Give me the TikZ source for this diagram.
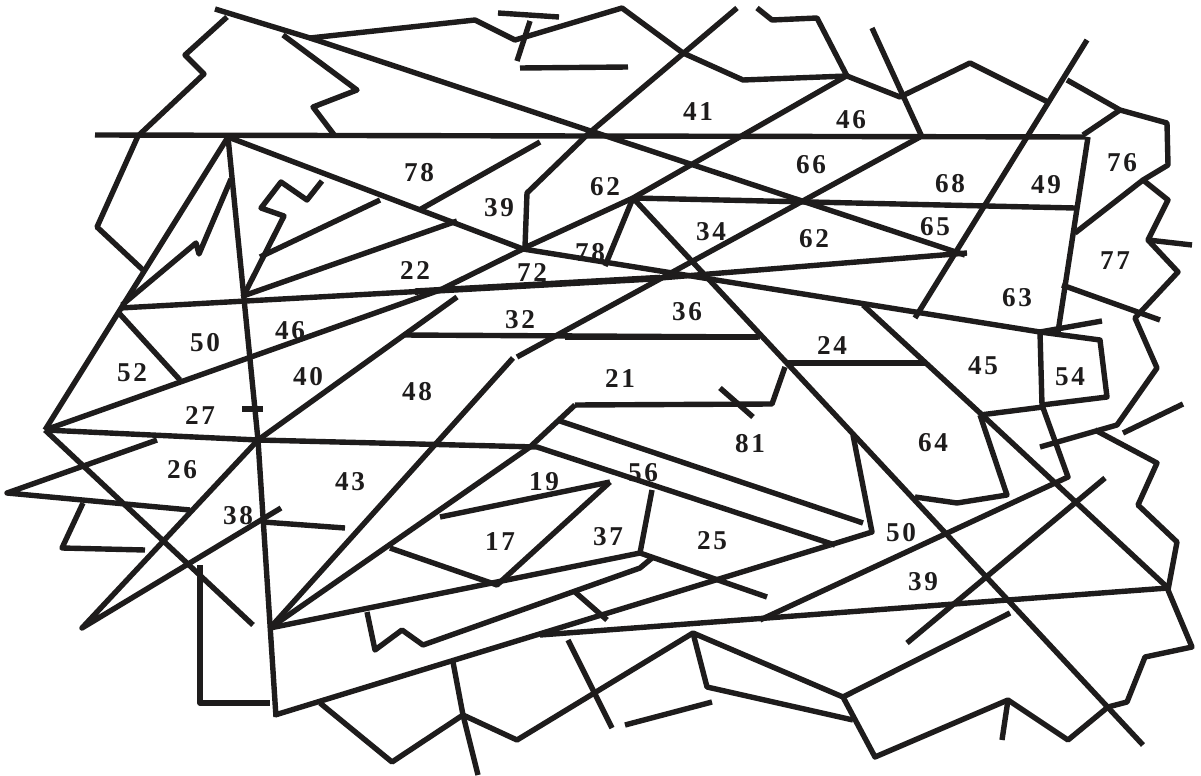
\documentclass[tikz,border=0pt]{standalone}
\usepackage{fontspec}
\setmainfont{Liberation Serif}
\definecolor{ink}{RGB}{30,28,28}
\newcommand{\dd}[2]{#1\kern1.3pt#2}
\begin{document}
\begin{tikzpicture}[x=0.5pt,y=-0.5pt,
  ln/.style={line width=2.7pt, line join=round, line cap=butt, draw=ink},
  thk/.style={line width=3.3pt, draw=ink},
  lab/.style={font=\bfseries\fontsize{13.6}{13.6}\selectfont, text=ink, inner sep=0pt}]
\useasboundingbox (0,0) rectangle (1201,776);
\fill[white] (0,0) rectangle (1201,776);
% top contour
\draw[ln] (215,9)--(310,38)--(475,20)--(515,40)--(622,8)--(683,53)--(743,80)--(847,76)--(900,97)--(970,63)--(1050,103);
\draw[ln] (498,13)--(559,17);
\draw[ln] (530,21)--(517,61);
\draw[ln] (520,68)--(628,67);
\draw[ln] (283,35)--(357,90)--(313,107)--(335,136);
\draw[ln] (310,38)--(965,255);
\draw[ln] (737,8)--(588,134)--(527,193)--(525,247);
\draw[ln] (757,8)--(772,20)--(817,18)--(847,76);
\draw[ln] (848,75)--(633,198)--(522,249);
\draw[ln] (872,28)--(922,137);
\draw[ln] (95,135)--(1085,137);
% left
\draw[ln] (227,17)--(185,55)--(204,74)--(138,136)--(97,227)--(143,270);
\draw[ln] (228,137)--(45,430);
\draw[ln] (228,137)--(258,440)--(276,717);
\draw[ln] (228,137)--(523,249)--(1040,332)--(1102,321);
\draw[ln] (540,142)--(421,209);
\draw[ln] (231,179)--(199,254)--(196,243)--(122,305);
\draw[ln] (322,181)--(307,200)--(281,182)--(261,208)--(284,216)--(243,297);
\draw[ln] (260,257)--(380,200);
\draw[ln] (243,296)--(457,221);
\draw[ln] (120,308)--(660,278)--(967,253);
\draw[thk] (415,291.6)--(660,278);
\draw[ln] (118,312)--(180,380);
\draw[ln] (45,430)--(440,290)--(523,249);
\draw[ln] (457,297)--(258,440)--(82,628)--(281,508);
\draw[ln] (45,430)--(258,440)--(537,447)--(835,545);
\draw[ln] (575,405)--(530,447)--(270,628);
\draw[ln] (575,405)--(772,404)--(785,367);
\draw[ln] (560,421)--(863,523);
\draw[ln] (853,435)--(872,532)--(830,545);
\draw[ln] (720,388)--(753,417);
\draw[ln] (403,335)--(760,337);
\draw[thk] (565,337)--(758,337);
\draw[ln] (920,137)--(517,357);
\draw[ln] (513,358)--(270,628);
\draw[ln] (242,409)--(263,409);
% centre triangle
\draw[ln] (633,198)--(1075,208);
\draw[ln] (633,198)--(605,266);
\draw[ln] (633,198)--(1143,745);
% right
\draw[ln] (1087,40)--(915,318);
\draw[ln] (1067,80)--(1120,110)--(1167,123)--(1168,165)--(1143,180)--(1075,233);
\draw[ln] (1120,110)--(1083,135);
\draw[ln] (1088,137)--(1058,332);
\draw[ln] (1143,180)--(1168,200)--(1148,240)--(1192,245);
\draw[ln] (1148,240)--(1178,272)--(1135,318)--(1157,368)--(1117,425)--(1040,447);
\draw[ln] (1095,430)--(1157,463)--(1138,505)--(1177,542)--(1168,590)--(1192,647)--(1145,657)--(1127,702)--(1108,707)--(1068,740)--(1008,700)--(875,757)--(843,697)--(693,633)--(517,740)--(463,715)--(392,762)--(320,703);
\draw[ln] (693,633)--(707,687)--(853,720);
\draw[ln] (843,697)--(1010,613);
\draw[ln] (1008,700)--(1002,740);
\draw[ln] (1062,285)--(1160,320);
\draw[ln] (1040,332)--(1100,340)--(1107,397)--(1042,405)--cycle;
\draw[ln] (1042,405)--(1068,477)--(760,620);
\draw[ln] (980,415)--(1043,407);
\draw[ln] (863,305)--(980,413)--(1168,588);
\draw[ln] (980,415)--(1007,495)--(957,503)--(915,497);
\draw[ln] (787,363)--(925,363);
\draw[ln] (1123,433)--(1183,404);
\draw[ln] (1105,478)--(907,643);
\draw[ln] (540,635)--(1168,588);
\draw[ln] (275,715)--(830,545);
% bottom left
\draw[ln] (157,440)--(7,493)--(190,510);
\draw[ln] (83,503)--(62,548)--(145,550);
\draw[ln] (45,430)--(253,625);
\draw[ln] (200,565)--(200,703)--(270,703);
\draw[ln] (263,522)--(345,528);
\draw[ln] (270,628)--(640,553)--(767,597);
\draw[ln] (640,553)--(652,490);
\draw[ln] (440,517)--(610,482);
\draw[ln] (390,548)--(497,585)--(610,482);
\draw[ln] (367,612)--(375,650)--(402,630)--(423,645)--(640,568)--(652,558);
\draw[ln] (453,662)--(463,715)--(478,775);
\draw[ln] (575,592)--(607,620);
\draw[ln] (568,640)--(612,728);
\draw[ln] (625,725)--(712,702);
% labels
\node[lab] (n41) at (698,112) {\dd41};
\node[lab] (n46a) at (851,120) {\dd46};
\node[lab] (n78a) at (419,173) {\dd78};
\node[lab] (n39a) at (499,208) {\dd39};
\node[lab] (n62a) at (605,187) {\dd62};
\node[lab] (n66) at (811,165) {\dd66};
\node[lab] (n68) at (950,184) {\dd68};
\node[lab] (n49) at (1046,185) {\dd49};
\node[lab] (n76) at (1122,163) {\dd76};
\node[lab] (n34) at (711,232) {\dd34};
\node[lab] (n62b) at (814,239) {\dd62};
\node[lab] (n65) at (935,227) {\dd65};
\node[lab] (n77) at (1115,261) {\dd77};
\node[lab] (n78b) at (590,253) {\dd78};
\node[lab] (n22) at (415,270) {\dd22};
\node[lab] (n72) at (532,272) {\dd72};
\node[lab] (n63) at (1017,298) {\dd63};
\node[lab] (n32) at (520,320) {\dd32};
\node[lab] (n36) at (687,312) {\dd36};
\node[lab] (n50a) at (205,343) {\dd50};
\node[lab] (n46b) at (290,331) {\dd46};
\node[lab] (n24) at (832,345) {\dd24};
\node[lab] (n45) at (983,366) {\dd45};
\node[lab] (n54) at (1070,377) {\dd54};
\node[lab] (n52) at (132,373) {\dd52};
\node[lab] (n40) at (308,377) {\dd40};
\node[lab] (n48) at (417,392) {\dd48};
\node[lab] (n21) at (620,378) {\dd21};
\node[lab] (n27) at (200,415) {\dd27};
\node[lab] (n81) at (750,444) {\dd81};
\node[lab] (n64) at (933,443) {\dd64};
\node[lab] (n26) at (182,470) {\dd26};
\node[lab] (n43) at (350,482) {\dd43};
\node[lab] (n19) at (544,482) {\dd19};
\node[lab] (n56) at (643,473) {\dd56};
\node[lab] (n38) at (238,516) {\dd38};
\node[lab] (n17) at (500,542) {\dd17};
\node[lab] (n37) at (608,537) {\dd37};
\node[lab] (n25) at (712,541) {\dd25};
\node[lab] (n50b) at (901,533) {\dd50};
\node[lab] (n39b) at (923,582) {\dd39};
\end{tikzpicture}
\end{document}
